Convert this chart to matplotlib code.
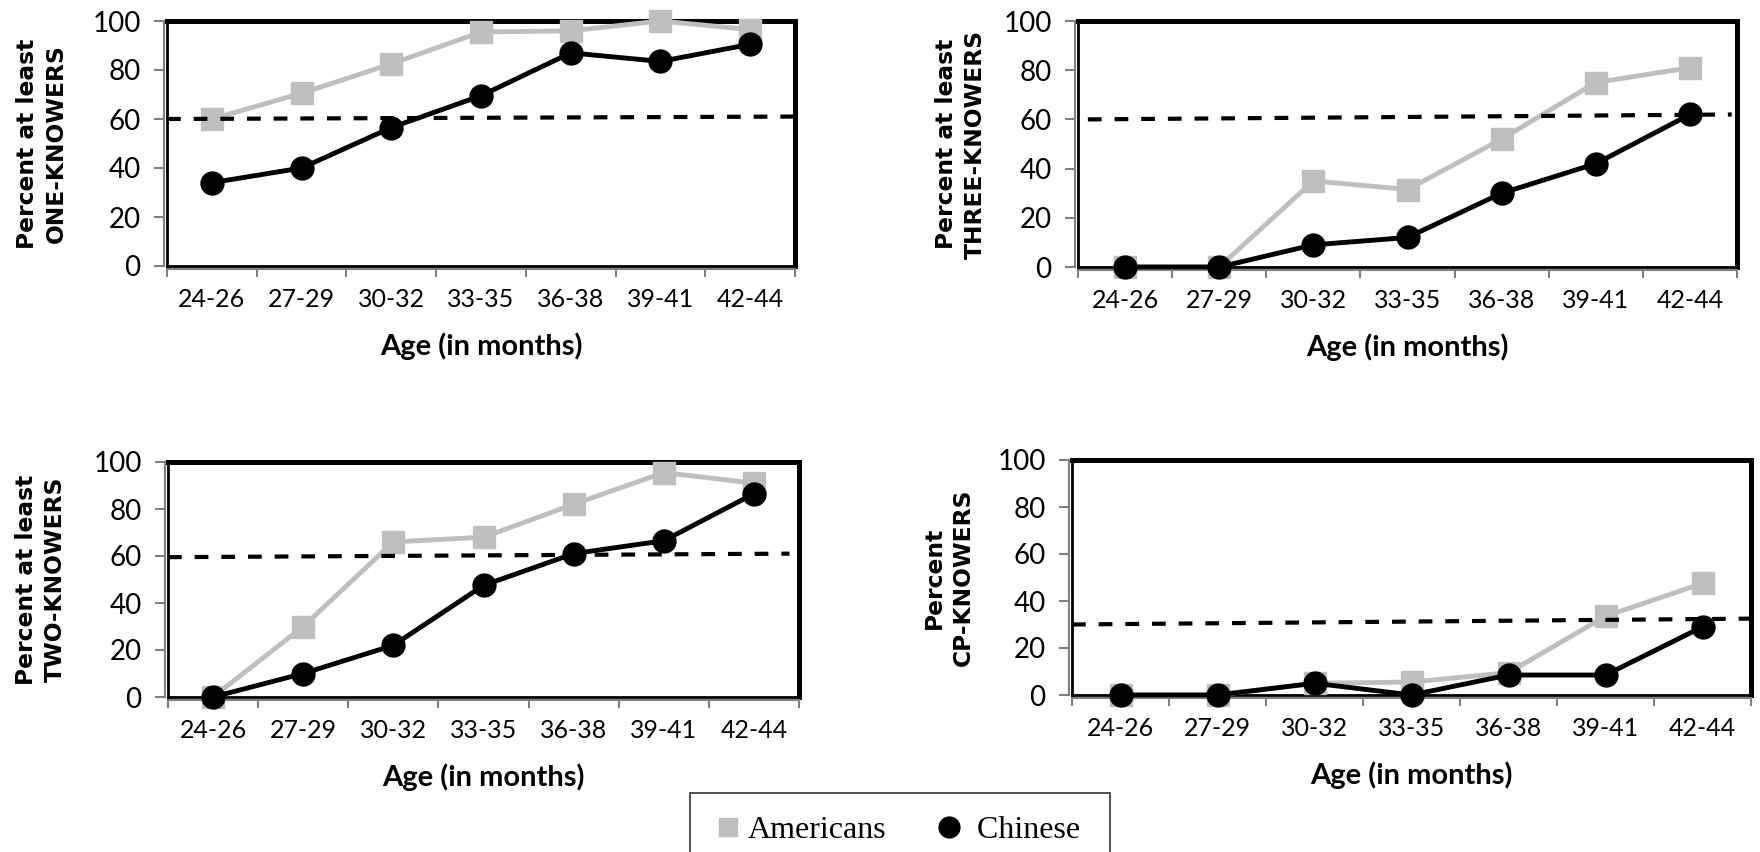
import numpy as np
import matplotlib
matplotlib.use("Agg")
import matplotlib.pyplot as plt
from matplotlib.lines import Line2D

# データ
ages = ['24-26', '27-29', '30-32', '33-35', '36-38', '39-41', '42-44']

one_us = [60, 70.5, 82.5, 95.5, 96, 100, 96.5]
one_cn = [34, 40, 56.5, 69.5, 87, 83.5, 90.5]
three_us = [0, 0, 35, 31.5, 52, 75, 81]
three_cn = [0, 0, 9, 12, 30, 42, 62]
two_us = [0, 30, 66, 68, 82, 95.5, 91]
two_cn = [0, 10, 22, 47.5, 61, 66.5, 86.5]
cp_us = [0, 0, 5, 5.5, 9.5, 33.5, 47.5]
cp_cn = [0, 0, 5, 0, 8.5, 8.5, 29]

# reference lines (value at left end, value at right end)
one_ref = [60, 61]
three_ref = [60, 62]
two_ref = [59.5, 61]
cp_ref = [30, 32.5]

ylabels = ['Percent at least\nONE-KNOWERS', 'Percent at least\nTHREE-KNOWERS',
           'Percent at least\nTWO-KNOWERS', 'Percent\nCP-KNOWERS']

GREY = '#BFBFBF'
W, H = 1760, 852

fig = plt.figure(figsize=(W / 100, H / 100), dpi=100)

# axes boxes in pixels: left, right, top, bottom, ylabel offset
boxes = [(167, 795, 21, 266, 125), (1078, 1737, 21, 267, 117),
         (168, 799, 462, 697, 127), (1072, 1751, 460, 695, 123)]
series = [(one_us, one_cn, one_ref, (0, 1)),
          (three_us, three_cn, three_ref, (0.015, 0.992)),
          (two_us, two_cn, two_ref, (0, 0.985)),
          (cp_us, cp_cn, cp_ref, (0, 1))]

x = np.arange(len(ages))

for (l, r, t, b, off), (us, cn, ref, rx), ylab in zip(boxes, series, ylabels):
    ax = fig.add_axes([l / W, 1 - b / H, (r - l) / W, (b - t) / H])
    ax.plot(x, us, color=GREY, lw=3.5, marker='s', ms=15.5, zorder=3, clip_on=False)
    ax.plot(rx, ref, transform=ax.get_yaxis_transform(), color='black', lw=3,
            dashes=(3.3, 3.1), zorder=4, clip_on=False)
    ax.plot(x, cn, color='black', lw=3.5, marker='o', ms=16.5, zorder=5, clip_on=False)

    ax.set_xlim(-0.5, 6.5)
    ax.set_ylim(0, 100)
    ax.set_yticks(np.arange(0, 101, 20))
    ax.set_xticks(np.arange(-0.5, 7, 1))
    ax.set_xticklabels([])
    ax.set_xticks(x, minor=True)
    ax.set_xticklabels(ages, minor=True)
    ax.tick_params(axis='y', length=7, width=1.5, color='#808080', pad=10,
                   labelsize=20, labelfontfamily='Lato')
    ax.tick_params(axis='x', which='major', length=6, width=1.5, color='#808080')
    ax.tick_params(axis='x', which='minor', length=0, pad=14,
                   labelsize=18, labelfontfamily='Lato')

    for s in ['top', 'right']:
        ax.spines[s].set_linewidth(3.6)
        ax.spines[s].set_color('black')
    for s in ['left', 'bottom']:
        ax.spines[s].set_linewidth(1.5)
        ax.spines[s].set_color('#808080')
        ax.spines[s].set_position(('outward', 2))
    ax.axvline(-0.5, color='black', lw=2, clip_on=False, zorder=2)
    ax.axhline(0, color='black', lw=2, clip_on=False, zorder=2)

    ax.text(0.5, -80 / (b - t), 'Age (in months)', transform=ax.transAxes,
            ha='center', va='center', fontsize=21, fontweight='bold',
            family=['Lato', 'DejaVu Sans'])
    ax.text(-off / (r - l), 0.5, ylab, transform=ax.transAxes, rotation=90,
            ha='center', va='center', fontsize=16.8, fontweight='bold',
            linespacing=1.35, multialignment='center')

handles = [Line2D([], [], color=GREY, marker='s', ls='none', ms=13),
           Line2D([], [], color='black', marker='o', ls='none', ms=15)]
leg = fig.legend(handles, ['Americans', ' Chinese '], loc='upper center',
                 bbox_to_anchor=(900 / W, 1 - 793 / H), ncol=2, frameon=True,
                 fancybox=False, edgecolor='black', borderpad=0.7, handlelength=1.0,
                 handletextpad=0.12, columnspacing=1.45, borderaxespad=0,
                 prop={'family': 'Liberation Serif', 'size': 23})
leg.get_frame().set_linewidth(1.2)

plt.savefig('out.png', dpi=100)
